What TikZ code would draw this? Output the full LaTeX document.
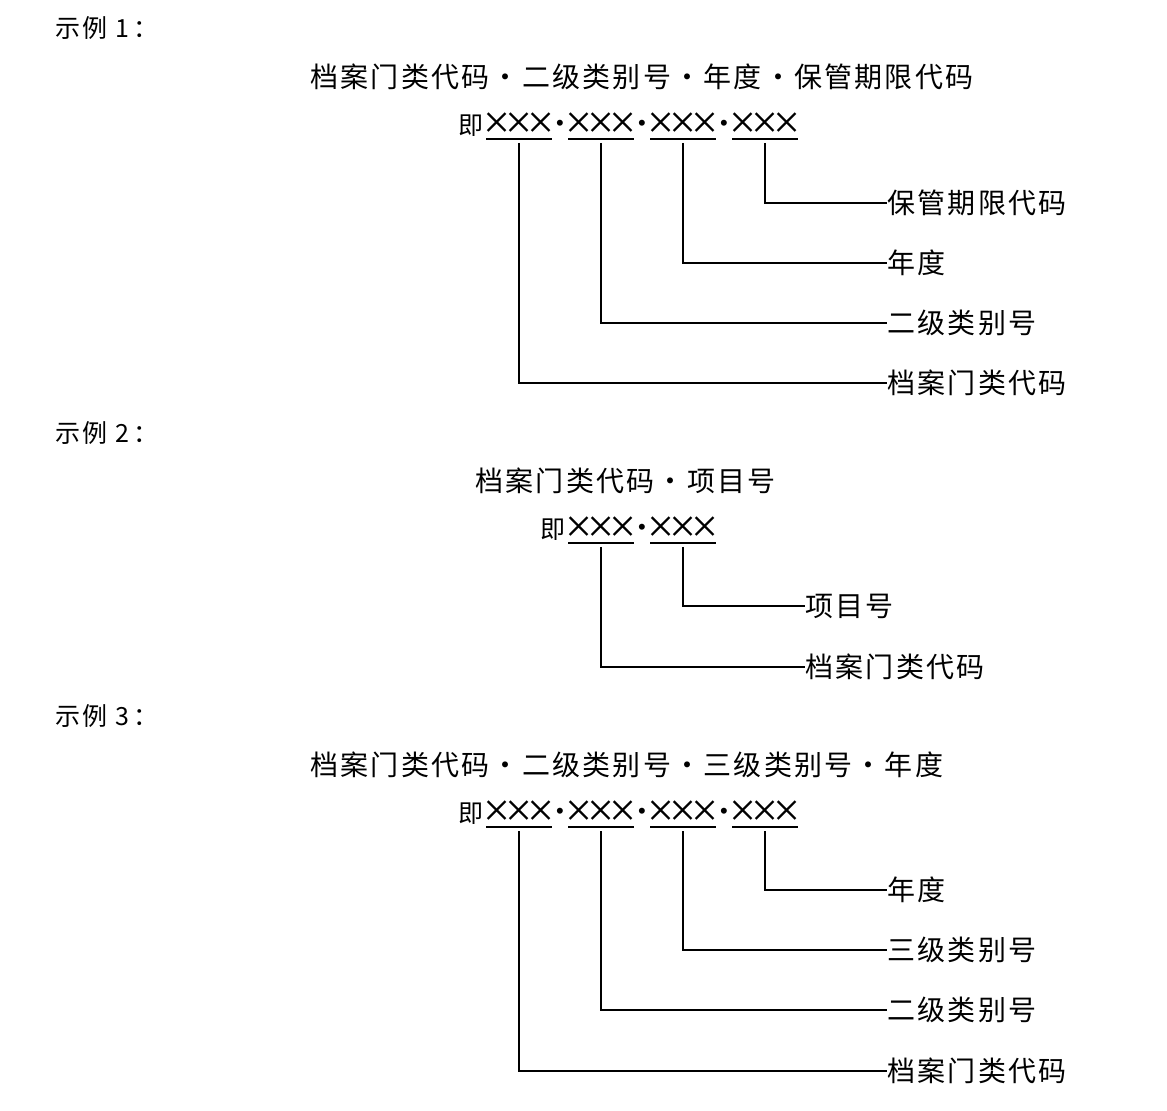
\documentclass[tikz,border=0pt]{standalone}
\usepackage{fontspec}
\setmainfont{Noto Sans CJK SC}
\newfontfamily\cjkwide[LetterSpace=8]{Noto Sans CJK SC}
\newfontfamily\crossfont{Liberation Serif}
\newfontfamily\dotfont{Liberation Sans}
\usetikzlibrary{positioning}
\newcommand{\xxx}{\makebox[11pt]{×}\makebox[11pt]{×}\makebox[11pt]{×}}
\newcommand{\sepdot}{\makebox[0pt]{•}}

\begin{document}
\begin{tikzpicture}[
  x=0.5pt, y=-0.5pt,
  head/.style={anchor=west, inner sep=0pt, font=\cjkwide\fontsize{12.5}{15}\selectfont},
  title/.style={anchor=west, inner sep=0pt, font=\cjkwide\fontsize{14}{17}\selectfont},
  ji/.style={anchor=east, inner sep=0pt, font=\fontsize{12.5}{15}\selectfont},
  grp/.style={inner sep=0pt, outer sep=0pt, minimum width=33pt, text width=33pt, text height=13.4pt, text depth=0pt, font=\crossfont\fontsize{24}{26}\selectfont},
  sep/.style={inner sep=0pt, outer sep=0pt, minimum width=8pt, font=\dotfont\fontsize{11}{13}\selectfont},
  lab/.style={anchor=west, inner sep=0pt, font=\cjkwide\fontsize{14}{17}\selectfont},
  conn/.style={line width=0.6pt}
]
\useasboundingbox (0,0) rectangle (1167,1111);

% example 1
\node[head] (h1) at (55,28) {示例 1\,：};
\node[title] (t1) at (310,77) {档案门类代码・二级类别号・年度・保管期限代码};
\node[grp, anchor=south west] (g11) at (486,139) {\xxx};
\node[sep, right=0pt of g11.east] (d11) {\sepdot};
\node[grp, right=0pt of d11.east] (g12) {\xxx};
\node[sep, right=0pt of g12.east] (d12) {\sepdot};
\node[grp, right=0pt of d12.east] (g13) {\xxx};
\node[sep, right=0pt of g13.east] (d13) {\sepdot};
\node[grp, right=0pt of d13.east] (g14) {\xxx};
\node[ji, left=1pt of g11.west] (j1) {即};
\foreach \g in {g11,g12,g13,g14}
  \draw[conn] (\g.south west) -- (\g.south east);

\node[lab] (l14) at (887,203) {保管期限代码};
\node[lab] (l13) at (887,263) {年度};
\node[lab] (l12) at (887,323) {二级类别号};
\node[lab] (l11) at (887,383) {档案门类代码};
\foreach \i in {1,...,4}
  \draw[conn] ([yshift=-2pt]g1\i.south) |- (l1\i.west);

% example 2
\node[head] (h2) at (55,433) {示例 2\,：};
\node[title] (t2) at (475,481) {档案门类代码・项目号};
\node[grp, anchor=south west] (g21) at (568,543) {\xxx};
\node[sep, right=0pt of g21.east] (d21) {\sepdot};
\node[grp, right=0pt of d21.east] (g22) {\xxx};
\node[ji, left=1pt of g21.west] (j2) {即};
\foreach \g in {g21,g22}
  \draw[conn] (\g.south west) -- (\g.south east);

\node[lab] (l22) at (805,606) {项目号};
\node[lab] (l21) at (805,667) {档案门类代码};
\foreach \i in {1,2}
  \draw[conn] ([yshift=-2pt]g2\i.south) |- (l2\i.west);

% example 3
\node[head] (h3) at (55,716) {示例 3\,：};
\node[title] (t3) at (310,765) {档案门类代码・二级类别号・三级类别号・年度};
\node[grp, anchor=south west] (g31) at (486,827) {\xxx};
\node[sep, right=0pt of g31.east] (d31) {\sepdot};
\node[grp, right=0pt of d31.east] (g32) {\xxx};
\node[sep, right=0pt of g32.east] (d32) {\sepdot};
\node[grp, right=0pt of d32.east] (g33) {\xxx};
\node[sep, right=0pt of g33.east] (d33) {\sepdot};
\node[grp, right=0pt of d33.east] (g34) {\xxx};
\node[ji, left=1pt of g31.west] (j3) {即};
\foreach \g in {g31,g32,g33,g34}
  \draw[conn] (\g.south west) -- (\g.south east);

\node[lab] (l34) at (887,890) {年度};
\node[lab] (l33) at (887,950) {三级类别号};
\node[lab] (l32) at (887,1010) {二级类别号};
\node[lab] (l31) at (887,1071) {档案门类代码};
\foreach \i in {1,...,4}
  \draw[conn] ([yshift=-2pt]g3\i.south) |- (l3\i.west);
\end{tikzpicture}
\end{document}
